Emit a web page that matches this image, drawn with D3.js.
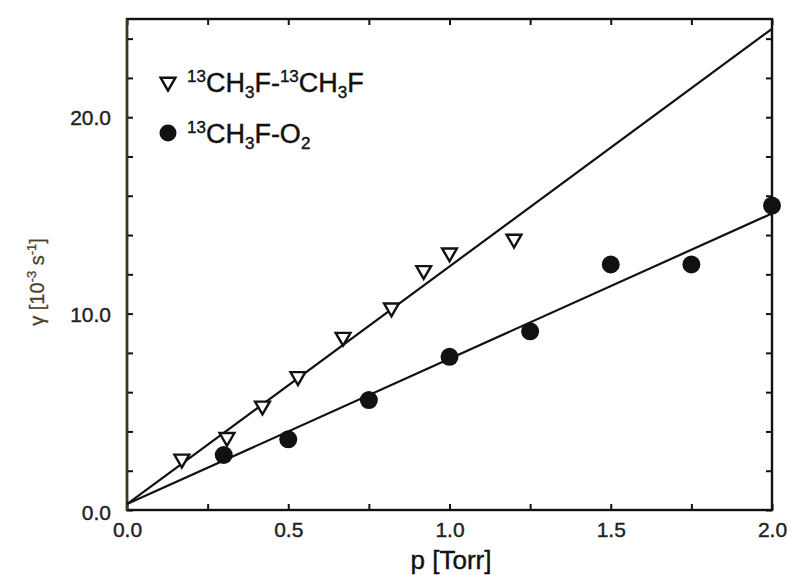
<!DOCTYPE html>
<html>
<head>
<meta charset="utf-8">
<script src="https://cdn.jsdelivr.net/npm/d3@7"></script>
<style>
  html, body { margin: 0; padding: 0; background: #fff; }
  svg text { font-family: "Liberation Sans", Arial, sans-serif; fill: #111; }
</style>
</head>
<body>
<div id="chart"></div>
<script>
// data
var pressureA = [0.17, 0.31, 0.42, 0.53, 0.67, 0.82, 0.92, 1.0, 1.2];
var gammaA    = [2.6, 3.7, 5.3, 6.8, 8.8, 10.3, 12.2, 13.1, 13.8];
var pressureB = [0.3, 0.5, 0.75, 1.0, 1.25, 1.5, 1.75, 2.0];
var gammaB    = [2.8, 3.6, 5.6, 7.8, 9.1, 12.5, 12.5, 15.5];
// fitted lines, end points
var fitX = [0, 2.0];
var fitA = [0.3, 24.5];
var fitB = [0.3, 15.1];
var xTicks = [0, 0.25, 0.5, 0.75, 1.0, 1.25, 1.5, 1.75, 2.0];
var xLabels = [0, 0.5, 1.0, 1.5, 2.0];
var yTicks = [0, 2, 4, 6, 8, 10, 12, 14, 16, 18, 20, 22, 24];
var yLabels = [0, 10, 20];

var width = 792, height = 575;
var margin = {top: 19, right: 20, bottom: 65, left: 127};

var svg = d3.select("#chart").append("svg")
  .attr("width", width)
  .attr("height", height);

var x = d3.scaleLinear().domain([0, 2]).range([margin.left, width - margin.right]);
var y = d3.scaleLinear().domain([0, 25]).range([height - margin.bottom, margin.top]);

var fmt = d3.format(".1f");

// axes, ticks pointing inward
function labelIf(list) {
  return function(d) { return list.indexOf(d) >= 0 ? fmt(d) : ""; };
}

var gx = svg.append("g")
  .attr("transform", "translate(0," + y(0) + ")")
  .call(d3.axisBottom(x).tickValues(xTicks).tickSize(-6).tickPadding(12).tickFormat(labelIf(xLabels)));
var gxt = svg.append("g")
  .attr("transform", "translate(0," + y(25) + ")")
  .call(d3.axisTop(x).tickValues(xTicks).tickSize(-6).tickFormat(""));
var gy = svg.append("g")
  .attr("transform", "translate(" + x(0) + ",0)")
  .call(d3.axisLeft(y).tickValues(yTicks).tickSize(-6).tickPadding(16).tickFormat(labelIf(yLabels)));
var gyr = svg.append("g")
  .attr("transform", "translate(" + x(2) + ",0)")
  .call(d3.axisRight(y).tickValues(yTicks).tickSize(-6).tickFormat(""));

[gx, gxt, gy, gyr].forEach(function(g) {
  g.select(".domain").remove();
  g.selectAll("line").attr("stroke", "#111").attr("stroke-width", 2);
  g.selectAll("text").attr("font-size", 21).style("fill", "#222")
    .attr("stroke", "#222").attr("stroke-width", 0.4);
});
gy.selectAll("text").attr("dy", "0.36em");
gy.selectAll(".tick").filter(function(d) { return d === 0; }).select("text").attr("dy", "0.45em");

// frame
svg.append("rect")
  .attr("x", x(0)).attr("y", y(25))
  .attr("width", x(2) - x(0)).attr("height", y(0) - y(25))
  .attr("fill", "none").attr("stroke", "#111").attr("stroke-width", 2.4);
svg.append("line")
  .attr("x1", x(0)).attr("x2", x(0)).attr("y1", y(25)).attr("y2", y(0))
  .attr("stroke", "#3a3a1e").attr("stroke-width", 2.4);

// axis titles
svg.append("text")
  .attr("x", 451).attr("y", 569)
  .attr("text-anchor", "middle").attr("font-size", 26)
  .attr("stroke", "#111").attr("stroke-width", 0.4)
  .text("p [Torr]");

var yt = svg.append("text")
  .attr("transform", "translate(44,282) rotate(-90)")
  .attr("text-anchor", "middle").attr("font-size", 20)
  .style("fill", "#4a4228").attr("stroke", "#4a4228").attr("stroke-width", 0.3);
yt.append("tspan").text("\u03B3 [10");
yt.append("tspan").attr("font-size", 13).attr("dy", -8).text("-3");
yt.append("tspan").attr("dy", 8).text(" s");
yt.append("tspan").attr("font-size", 13).attr("dy", -8).text("-1");
yt.append("tspan").attr("dy", 8).text("]");

// fit lines
var line = d3.line()
  .x(function(d) { return x(d[0]); })
  .y(function(d) { return y(d[1]); });

svg.append("path")
  .datum(d3.zip(fitX, fitA))
  .attr("d", line).attr("fill", "none").attr("stroke", "#111").attr("stroke-width", 2.2);
svg.append("path")
  .datum(d3.zip(fitX, fitB))
  .attr("d", line).attr("fill", "none").attr("stroke", "#111").attr("stroke-width", 2.2);

// markers
var tri = d3.symbol().type(d3.symbolTriangle).size(95);

svg.selectAll(".tri")
  .data(d3.zip(pressureA, gammaA))
  .enter().append("path")
  .attr("class", "tri")
  .attr("d", tri)
  .attr("transform", function(d) { return "translate(" + x(d[0]) + "," + y(d[1]) + ") rotate(180)"; })
  .attr("fill", "#fff").attr("stroke", "#111").attr("stroke-width", 2.4);

svg.selectAll(".dot")
  .data(d3.zip(pressureB, gammaB))
  .enter().append("circle")
  .attr("class", "dot")
  .attr("cx", function(d) { return x(d[0]); })
  .attr("cy", function(d) { return y(d[1]); })
  .attr("r", 9)
  .attr("fill", "#111");

// legend
svg.append("path")
  .attr("d", tri)
  .attr("transform", "translate(168,82) rotate(180)")
  .attr("fill", "#fff").attr("stroke", "#111").attr("stroke-width", 2.4);
svg.append("circle")
  .attr("cx", 168).attr("cy", 133).attr("r", 8.5).attr("fill", "#111");

function chemLabel(yy, parts) {
  var t = svg.append("text").attr("x", 187).attr("y", yy).attr("font-size", 27)
    .attr("stroke", "#111").attr("stroke-width", 0.4);
  var shift = 0;
  parts.forEach(function(p) {
    var target = p[1] === "sup" ? -10 : p[1] === "sub" ? 6 : 0;
    t.append("tspan")
      .attr("dy", target - shift)
      .attr("font-size", p[1] ? 17 : 27)
      .text(p[0]);
    shift = target;
  });
  return t;
}
chemLabel(92, [["13", "sup"], ["CH"], ["3", "sub"], ["F-"], ["13", "sup"], ["CH"], ["3", "sub"], ["F"]]);
chemLabel(143, [["13", "sup"], ["CH"], ["3", "sub"], ["F-O"], ["2", "sub"]]);
</script>
</body>
</html>
